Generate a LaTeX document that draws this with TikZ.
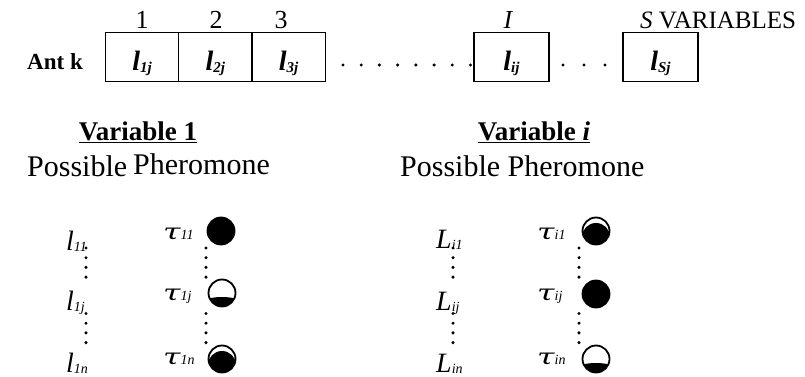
\documentclass[tikz,border=0pt]{standalone}
\usepackage{fontspec}
\setmainfont{Liberation Serif}
\newfontfamily\taufont{DejaVu Serif}
\usetikzlibrary{calc}
\newcommand{\bsub}[1]{\raisebox{-2pt}{\fontsize{15}{15}\selectfont #1}}
\newcommand{\lsub}[1]{\raisebox{-1pt}{\fontsize{14}{14}\selectfont #1}}
\newcommand{\tsub}[1]{\raisebox{0pt}{\fontsize{14}{14}\selectfont #1}}
\newcommand{\wtau}{\scalebox{1.5}[1.05]{{\taufont\itshape τ}}}
\tikzset{
  cell/.style={draw, line width=1.5pt, minimum height=49pt, inner sep=0pt, outer sep=0pt,
    text height=30pt, text depth=2pt,
    font=\fontsize{28}{28}\selectfont\bfseries\itshape},
  toplab/.style={anchor=base, inner sep=0pt, font=\fontsize{26}{26}\selectfont},
  head/.style={anchor=base, inner sep=0pt, font=\fontsize{27}{27}\selectfont\bfseries},
  poss/.style={anchor=base west, inner sep=0pt, font=\fontsize{30}{30}\selectfont},
  lab/.style={anchor=base west, inner sep=0pt, font=\fontsize{28}{28}\selectfont\itshape},
  tau/.style={anchor=base west, inner sep=0pt, font=\fontsize{21}{21}\selectfont\itshape},
  hdots/.style={line width=3.4pt, line cap=round, dash pattern=on 0pt off #1},
  vdots/.style={line width=3.4pt, line cap=round, dash pattern=on 0pt off 9.7pt},
  pher/.style={circle, draw, line width=1.8pt, minimum size=27pt, inner sep=0pt, outer sep=0pt},
  pfull/.style={pher, fill=black},
  plow/.style={pher, path picture={\fill[black] ([yshift=-64pt]path picture bounding box.center) circle (60pt);}},
  pcres/.style={pher, path picture={\fill[black] ([yshift=-6pt]path picture bounding box.center) circle (14pt);}},
}
\begin{document}
\begin{tikzpicture}[x=1pt,y=-1pt]
\useasboundingbox (0,0) rectangle (805,377);
% ant row
\node[anchor=base east, inner sep=0pt, font=\fontsize{23}{23}\selectfont\bfseries] (ant) at (83,70) {Ant k};
\node[cell, minimum width=73.3pt] (b1) at (142,57) {l\bsub{1j}};
\node[cell, minimum width=73.3pt] (b2) at (215.3,57) {l\bsub{2j}};
\node[cell, minimum width=73.3pt] (b3) at (288.6,57) {l\bsub{3j}};
\node[cell, minimum width=75pt] (bi) at (511.5,57) {l\bsub{ij}};
\node[cell, minimum width=75pt] (bS) at (660.5,57) {l\bsub{Sj}};
\node[toplab] (n1) at (142,29) {1};
\node[toplab] (n2) at (216,29) {2};
\node[toplab] (n3) at (281,29) {3};
\node[toplab] (ni) at (508,29) {\itshape I};
\node[anchor=base west, inner sep=0pt, font=\fontsize{25}{25}\selectfont] (nS) at (640,29) {\textit{S} VARIABLES};
\coordinate (ha1) at (343,65); \coordinate (hb1) at (470.6,65);
\draw[hdots=18.21pt] (ha1) -- (hb1);
\coordinate (ha2) at (563,65); \coordinate (hb2) at (605.2,65);
\draw[hdots=21pt] (ha2) -- (hb2);
% headings
\node[head] (v1) at (138,140) {\underline{Variable 1}};
\node[head] (vi) at (534,140) {\underline{Variable \textit{i}}};
\node[poss] (pos1) at (27,176) {Possible};
\node[poss] (ph1) at (133,174) {Pheromone};
\node[poss] (pos2) at (400,176) {Possible Pheromone};
% variable 1 column
\node[lab] (l11) at (66,250) {l\lsub{11}};
\node[lab] (l1j) at (66,310) {l\lsub{1j}};
\node[lab] (l1n) at (66,372) {l\lsub{1n}};
\node[tau] (t11) at (163,239) {\wtau\tsub{11}};
\node[tau] (t1j) at (163,300) {\wtau\tsub{1j}};
\node[tau] (t1n) at (163,364) {\wtau\tsub{1n}};
\node[pfull] (p11) at (221,231) {};
\node[plow] (p1j) at (222,293) {};
\node[pcres] (p1n) at (222,359) {};
% variable i column
\node[lab] (Li1) at (436,248) {L\lsub{i1}};
\node[lab] (Lij) at (436,310) {L\lsub{ij}};
\node[lab] (Lin) at (436,372) {L\lsub{in}};
\node[tau] (ti1) at (537,239) {\wtau\tsub{i1}};
\node[tau] (tij) at (537,300) {\wtau\tsub{ij}};
\node[tau] (tin) at (537,364) {\wtau\tsub{in}};
\node[pcres] (pi1) at (596,231) {};
\node[pfull] (pij) at (596,294) {};
\node[plow] (pin) at (596,359) {};
% vertical dotted connectors
\foreach \x/\nm in {86/a,206/b,453/c,579/d}{
  \coordinate (\nm1) at (\x,248); \coordinate (\nm2) at (\x,277.2);
  \coordinate (\nm3) at (\x,313.5); \coordinate (\nm4) at (\x,342.7);
  \draw[vdots] (\nm1) -- (\nm2);
  \draw[vdots] (\nm3) -- (\nm4);
}
\end{tikzpicture}
\end{document}
